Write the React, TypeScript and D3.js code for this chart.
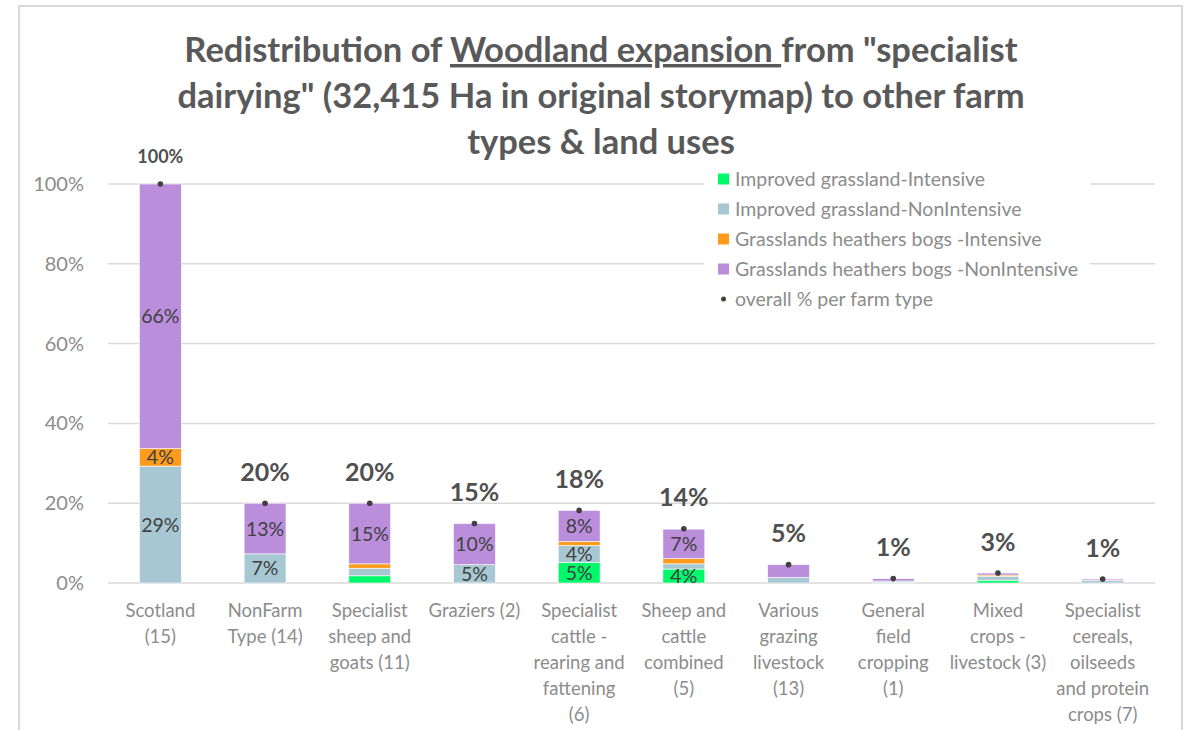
import React from "react";
import * as d3 from "d3";

const categories: string[][] = [
  ["Scotland", "(15)"],
  ["NonFarm", "Type (14)"],
  ["Specialist", "sheep and", "goats (11)"],
  ["Graziers (2)"],
  ["Specialist", "cattle -", "rearing and", "fattening", "(6)"],
  ["Sheep and", "cattle", "combined", "(5)"],
  ["Various", "grazing", "livestock", "(13)"],
  ["General", "field", "cropping", "(1)"],
  ["Mixed", "crops -", "livestock (3)"],
  ["Specialist", "cereals,", "oilseeds", "and protein", "crops (7)"],
];

const seriesNames = [
  "Improved grassland-Intensive",
  "Improved grassland-NonIntensive",
  "Grasslands heathers bogs -Intensive",
  "Grasslands heathers bogs -NonIntensive",
];
const seriesColors = ["#00F86A", "#A7C8D3", "#FE9B1C", "#BB8EDC"];

const improvedIntensive = [0, 0, 1.8, 0, 5.1, 3.5, 0, 0.1, 0.7, 0];
const improvedNonIntensive = [29.3, 7.3, 1.9, 4.6, 4.3, 1.3, 1.4, 0.4, 1.0, 0.6];
const heathersIntensive = [4.4, 0, 1.1, 0, 1.0, 1.3, 0, 0, 0.3, 0.1];
const heathersNonIntensive = [66.3, 12.7, 15.2, 10.3, 7.8, 7.4, 3.2, 0.6, 0.5, 0.3];
const overall = [100, 20, 20, 15, 18, 14, 5, 1, 3, 1];
const overallPoint = [100, 20, 20, 14.9, 18.2, 13.6, 4.6, 1.1, 2.5, 1.0];

const yTicks = [0, 20, 40, 60, 80, 100];
const titleLines = [
  ["Redistribution of ", "Woodland expansion ", "from \"specialist"],
  ["dairying\" (32,415 Ha in original storymap) to other farm"],
  ["types & land uses"],
];

const FONT = "Lato, 'Open Sans', sans-serif";

export default function App() {
  const W = 1184;
  const H = 730;
  const x = d3
    .scaleBand<number>()
    .domain(d3.range(categories.length))
    .range([108, 1155])
    .paddingInner(0.6)
    .paddingOuter(0.3);
  const y = d3.scaleLinear().domain([0, 100]).range([583, 184]);

  const seriesData = [improvedIntensive, improvedNonIntensive, heathersIntensive, heathersNonIntensive];
  const table = categories.map((_, i) => {
    const row: Record<string, number> = {};
    seriesNames.forEach((s, k) => (row[s] = seriesData[k][i]));
    return row;
  });
  const stacked = d3.stack<Record<string, number>>().keys(seriesNames)(table);

  const legendX = 718;
  const legendY0 = 179;
  const legendStep = 30;

  return (
    <svg
      width={W}
      height={H}
      style={{ position: "absolute", left: 0, top: 0, background: "#fff" }}
      fontFamily={FONT}
    >
      {/* chart border */}
      <path d={`M19,${H + 5} V6 H1182 V${H + 5}`} fill="none" stroke="#D9D9D9" strokeWidth={2} />

      {/* title */}
      <g fill="#595959" fontWeight="bold" fontSize={34.5} textAnchor="middle">
        {titleLines.map((parts, li) => (
          <text key={li} x={601} y={62 + li * 46} style={{ whiteSpace: "pre" }}>
            {parts.map((p, pi) => (
              <tspan key={pi} textDecoration={li === 0 && pi === 1 ? "underline" : undefined}>
                {p}
              </tspan>
            ))}
          </text>
        ))}
      </g>

      {/* gridlines */}
      {yTicks.map((t) => (
        <line key={t} x1={108} x2={1155} y1={y(t)} y2={y(t)} stroke="#D9D9D9" strokeWidth={1.5} />
      ))}
      {yTicks.map((t) => (
        <text key={"l" + t} x={84} y={y(t)} dy="0.35em" textAnchor="end" fontSize={20} fill="#8C8C8C">
          {t + "%"}
        </text>
      ))}

      {/* legend background */}
      <rect x={704} y={165} width={386} height={148} fill="#fff" />
      {seriesNames.map((s, k) => (
        <g key={s}>
          <rect x={legendX} y={legendY0 + k * legendStep - 5.5} width={11} height={11} fill={seriesColors[k]} />
          <text x={735} y={legendY0 + k * legendStep} dy="0.35em" fontSize={19.5} fill="#8C8C8C">
            {s}
          </text>
        </g>
      ))}
      <circle cx={723.5} cy={legendY0 + 4 * legendStep} r={2.5} fill="#404040" />
      <text x={735} y={legendY0 + 4 * legendStep} dy="0.35em" fontSize={19.5} fill="#8C8C8C">
        overall % per farm type
      </text>

      {/* bars */}
      {stacked.map((layer, k) => (
        <g key={layer.key} fill={seriesColors[k]}>
          {layer.map((d, i) => {
            const h = y(d[0]) - y(d[1]);
            if (h <= 0) return null;
            return (
              <rect
                key={i}
                x={x(i)!}
                y={y(d[1])}
                width={x.bandwidth()}
                height={h}
                stroke="#fff"
                strokeWidth={0.6}
              />
            );
          })}
        </g>
      ))}

      {/* in-bar labels */}
      {stacked.map((layer, k) => (
        <g key={"t" + layer.key} fontSize={19.5} fill="#404040" textAnchor="middle">
          {layer.map((d, i) => {
            const v = d[1] - d[0];
            if (v < 3.5) return null;
            return (
              <text key={i} x={x(i)! + x.bandwidth() / 2} y={(y(d[0]) + y(d[1])) / 2} dy="0.36em">
                {Math.round(v) + "%"}
              </text>
            );
          })}
        </g>
      ))}

      {/* overall points & labels */}
      {overallPoint.map((v, i) => (
        <g key={"p" + i}>
          <circle cx={x(i)! + x.bandwidth() / 2} cy={y(v)} r={2.8} fill="#404040" />
          <text
            x={x(i)! + x.bandwidth() / 2}
            y={i === 0 ? y(v) - 27 : y(v) - 31}
            dy="0.35em"
            textAnchor="middle"
            fontWeight="bold"
            fontSize={i === 0 ? 18 : 25}
            fill="#505050"
          >
            {overall[i] + "%"}
          </text>
        </g>
      ))}

      {/* category labels */}
      {categories.map((lines, i) => (
        <text
          key={"c" + i}
          x={x(i)! + x.bandwidth() / 2}
          textAnchor="middle"
          fontSize={18.5}
          fill="#8C8C8C"
        >
          {lines.map((ln, j) => (
            <tspan key={j} x={x(i)! + x.bandwidth() / 2} y={611 + j * 26} dy="0.35em">
              {ln}
            </tspan>
          ))}
        </text>
      ))}
    </svg>
  );
}
